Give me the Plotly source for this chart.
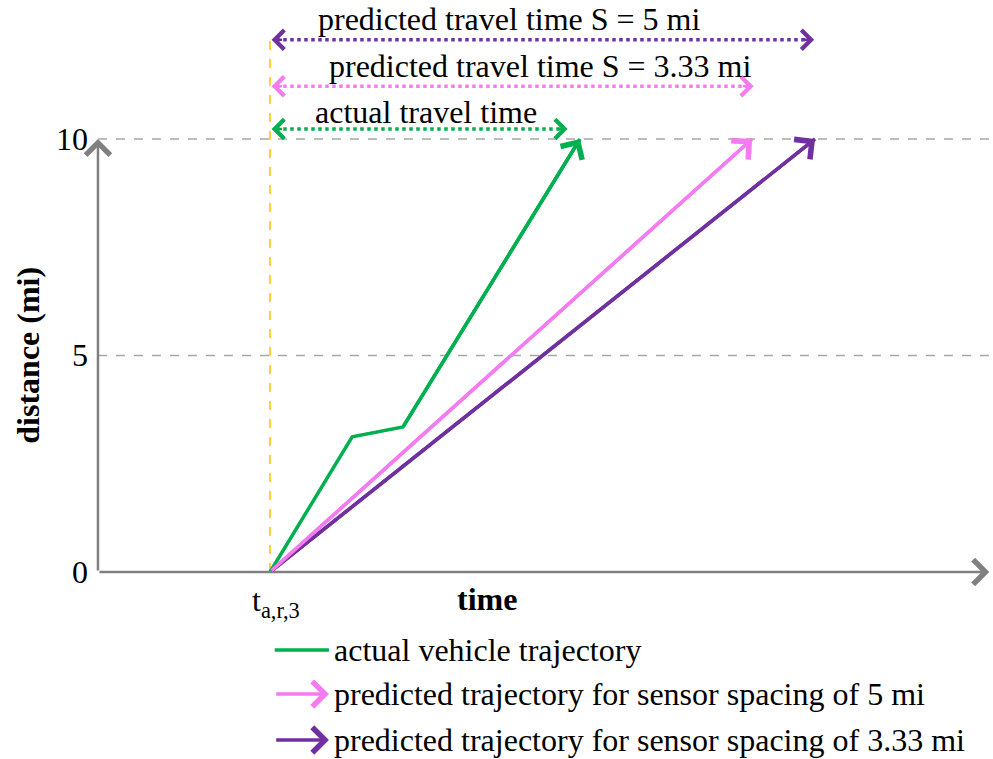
import plotly.graph_objects as go

# --- data -------------------------------------------------------------
# time in minutes measured from t_a,r,3 ; distance in miles
t_actual = [0.0, 2.65, 4.29, 10.0]
d_actual = [0.0, 3.12, 3.35, 10.0]

t_pred_5 = [0.0, 15.55]
d_pred_5 = [0.0, 10.0]

t_pred_333 = [0.0, 17.58]
d_pred_333 = [0.0, 10.0]

# travel-time spans shown above the plot (end time, height in mi)
span_labels = ["predicted travel time S = 5 mi",
               "predicted travel time S = 3.33 mi",
               "actual travel time"]
span_end = [17.55, 15.6, 9.6]
span_level = [12.29, 11.22, 10.23]

y_ticks = [0, 5, 10]
legend_labels = ["actual vehicle trajectory",
                 "predicted trajectory for sensor spacing of 5 mi",
                 "predicted trajectory for sensor spacing of 3.33 mi"]

# --- style ------------------------------------------------------------
GREEN = "#00B050"
PINK = "#F47CF0"
PURPLE = "#7030A0"
GOLD = "#FFC000"
AXIS = "#808080"
GRID = "#A6A6A6"
FONT = "Liberation Serif, Times New Roman, serif"
FS = 32

X_RANGE = [-8.71, 23.32]
Y_RANGE = [-4.319, 13.21]
X_AXIS_START = -5.55
span_colors = [PURPLE, PINK, GREEN]
legend_colors = [GREEN, PINK, PURPLE]

fig = go.Figure()
ann = []
shapes = []

# horizontal dashed reference lines
for yv in y_ticks[1:]:
    shapes.append(dict(type="line", x0=X_AXIS_START, x1=X_RANGE[1], y0=yv, y1=yv,
                       line=dict(color=GRID, width=1.5, dash="dash"), layer="below"))

# departure time marker
shapes.append(dict(type="line", x0=0, x1=0, y0=0, y1=span_level[0],
                   line=dict(color=GOLD, width=1.5, dash="dash"), layer="below"))

# axes with arrowheads
ann.append(dict(x=X_RANGE[1] - 0.12, y=0, ax=X_AXIS_START, ay=0, xref="x", yref="y",
                axref="x", ayref="y", showarrow=True, arrowhead=4, arrowsize=1.9,
                arrowwidth=2.5, arrowcolor=AXIS, text=""))
ann.append(dict(x=X_AXIS_START, y=y_ticks[-1], ax=X_AXIS_START, ay=0, xref="x", yref="y",
                axref="x", ayref="y", showarrow=True, arrowhead=4, arrowsize=1.9,
                arrowwidth=2.5, arrowcolor=AXIS, text=""))

# trajectories
for tx, dy, col in [(t_pred_333, d_pred_333, PURPLE), (t_pred_5, d_pred_5, PINK),
                    (t_actual, d_actual, GREEN)]:
    fig.add_trace(go.Scatter(x=tx, y=dy, mode="lines", line=dict(color=col, width=3.5),
                             hoverinfo="skip", showlegend=False))
    ann.append(dict(x=tx[-1], y=dy[-1], ax=tx[-2], ay=dy[-2], xref="x", yref="y",
                    axref="x", ayref="y", showarrow=True, arrowhead=4, arrowsize=1.4,
                    arrowwidth=3.5, arrowcolor=col, text=""))

# travel-time spans: dotted line with open heads at both ends
for lab, te, lvl, col in zip(span_labels, span_end, span_level, span_colors):
    fig.add_trace(go.Scatter(x=[0.2, te - 0.15], y=[lvl, lvl], mode="lines",
                             line=dict(color=col, width=3.5, dash="dot"),
                             hoverinfo="skip", showlegend=False))
    for xe, off in [(0.05, 12), (te, -12)]:
        ann.append(dict(x=xe, y=lvl, ax=off, ay=0, xref="x", yref="y",
                        showarrow=True, arrowhead=4, arrowsize=1.5, arrowwidth=2.5,
                        arrowcolor=col, text=""))

# span captions
caption_x = [7.74, 8.71, 5.03]
caption_y = [12.76, 11.69, 10.62]
for lab, cx, cy in zip(span_labels, caption_x, caption_y):
    ann.append(dict(x=cx, y=cy, xref="x", yref="y", text=lab, showarrow=False,
                    font=dict(family=FONT, size=FS, color="black"),
                    xanchor="center", yanchor="middle"))

# y tick labels
for yv in y_ticks:
    ann.append(dict(x=X_AXIS_START - 0.25, y=yv, xref="x", yref="y", text=str(yv),
                    showarrow=False, xanchor="right", yanchor="middle",
                    font=dict(family=FONT, size=FS, color="black")))

# axis titles
ann.append(dict(x=-7.8, y=5.0, xref="x", yref="y", text="<b>distance (mi)</b>",
                showarrow=False, textangle=-90, xanchor="center", yanchor="middle",
                font=dict(family=FONT, size=FS, color="black")))
ann.append(dict(x=7.0, y=-0.62, xref="x", yref="y", text="<b>time</b>",
                showarrow=False, xanchor="center", yanchor="middle",
                font=dict(family=FONT, size=FS, color="black")))
ann.append(dict(x=0.2, y=-0.7, xref="x", yref="y", text="t<sub>a,r,3</sub>",
                showarrow=False, xanchor="center", yanchor="middle",
                font=dict(family=FONT, size=FS, color="black")))

# legend drawn as line samples with captions
legend_y = [-1.80, -2.82, -3.88]
for i, (lab, ly, col) in enumerate(zip(legend_labels, legend_y, legend_colors)):
    if i == 0:
        shapes.append(dict(type="line", x0=0.15, x1=1.9, y0=ly, y1=ly,
                           line=dict(color=col, width=3.5)))
    else:
        ann.append(dict(x=1.9, y=ly, ax=0.15, ay=ly, xref="x", yref="y",
                        axref="x", ayref="y", showarrow=True, arrowhead=4,
                        arrowsize=1.4, arrowwidth=3.5, arrowcolor=col, text=""))
    ann.append(dict(x=2.0, y=ly, xref="x", yref="y", text=lab, showarrow=False,
                    xanchor="left", yanchor="middle",
                    font=dict(family=FONT, size=FS, color="black")))

fig.update_layout(
    width=993, height=759,
    margin=dict(l=0, r=0, t=0, b=0),
    paper_bgcolor="white", plot_bgcolor="white",
    xaxis=dict(range=X_RANGE, visible=False, fixedrange=True),
    yaxis=dict(range=Y_RANGE, visible=False, fixedrange=True),
    shapes=shapes, annotations=ann, showlegend=False,
)

fig.write_html("out.html")
